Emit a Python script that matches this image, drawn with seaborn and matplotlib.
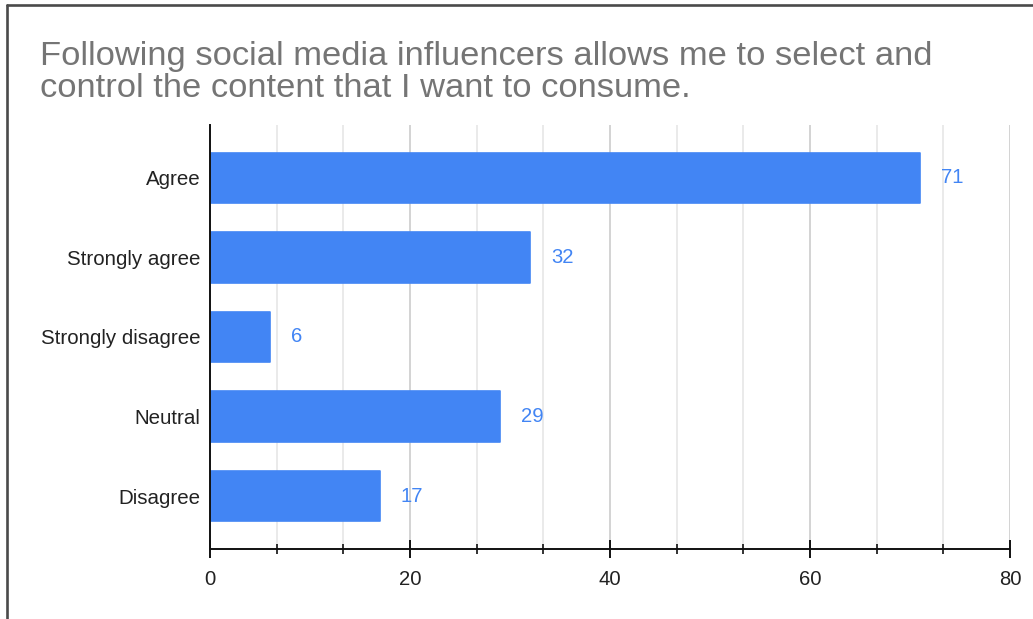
import matplotlib
matplotlib.use("Agg")
import matplotlib.pyplot as plt
from matplotlib.lines import Line2D
from matplotlib.ticker import MultipleLocator
import seaborn as sns

# Survey responses
categories = ["Agree", "Strongly agree", "Strongly disagree", "Neutral", "Disagree"]
counts = [71, 32, 6, 29, 17]
x_ticks = [0, 20, 40, 60, 80]
title_lines = ["Following social media influencers allows me to select and",
               "control the content that I want to consume."]

BLUE = "#4285F4"

sns.set_style("white")
plt.rcParams["font.family"] = ["Liberation Sans", "DejaVu Sans"]

W, H = 1033, 619
fig = plt.figure(figsize=(W / 100, H / 100), dpi=100)
ax = fig.add_axes([210 / W, 1 - 549 / H, 800 / W, (549 - 125) / H])

sns.barplot(x=counts, y=categories, color=BLUE, width=0.63, ax=ax,
            orient="h", saturation=1, edgecolor=BLUE, linewidth=1.2)
for p in ax.patches:
    p.set_joinstyle("round")

# value labels
for i, v in enumerate(counts):
    ax.annotate(str(v), xy=(v, i), xytext=(21, 0), textcoords="offset pixels",
                ha="left", va="center", color=BLUE, fontsize=14.6)

ax.set_xlim(0, 80)
ax.set_ylim(4.665, -0.665)
ax.set_xticks(x_ticks)
ax.set_xticklabels([str(t) for t in x_ticks])
ax.xaxis.set_minor_locator(MultipleLocator(20 / 3))
ax.set_xlabel("")
ax.set_ylabel("")

ax.grid(axis="x", which="major", color="#cccccc", linewidth=1.2)
ax.grid(axis="x", which="minor", color="#e6e6e6", linewidth=1.2)
ax.set_axisbelow(True)

for side in ("top", "right"):
    ax.spines[side].set_visible(False)
for side in ("left", "bottom"):
    ax.spines[side].set_color("#111111")
    ax.spines[side].set_linewidth(1.4)

ax.tick_params(axis="x", which="both", bottom=True)
ax.tick_params(axis="x", which="major", direction="inout", length=13,
               width=1.4, color="#111111", labelsize=14.6, labelcolor="#222222",
               pad=8.5)
ax.tick_params(axis="x", which="minor", direction="inout", length=6.5,
               width=1.2, color="#111111")
ax.tick_params(axis="y", left=False, length=0, labelsize=14.8,
               labelcolor="#222222", pad=7)

for baseline, line in zip((65, 97), title_lines):
    fig.text(40 / W, 1 - baseline / H, line, ha="left", va="baseline",
             fontsize=24.8, color="#757575")

# outer frame (top and left edges)
fig.add_artist(Line2D([7 / W, 1], [1 - 5 / H, 1 - 5 / H], transform=fig.transFigure,
                      color="#4a4a4a", linewidth=1.9))
fig.add_artist(Line2D([7 / W, 7 / W], [1 - 5 / H, 0], transform=fig.transFigure,
                      color="#4a4a4a", linewidth=1.9))

fig.savefig("out.png", dpi=100, facecolor="white")
